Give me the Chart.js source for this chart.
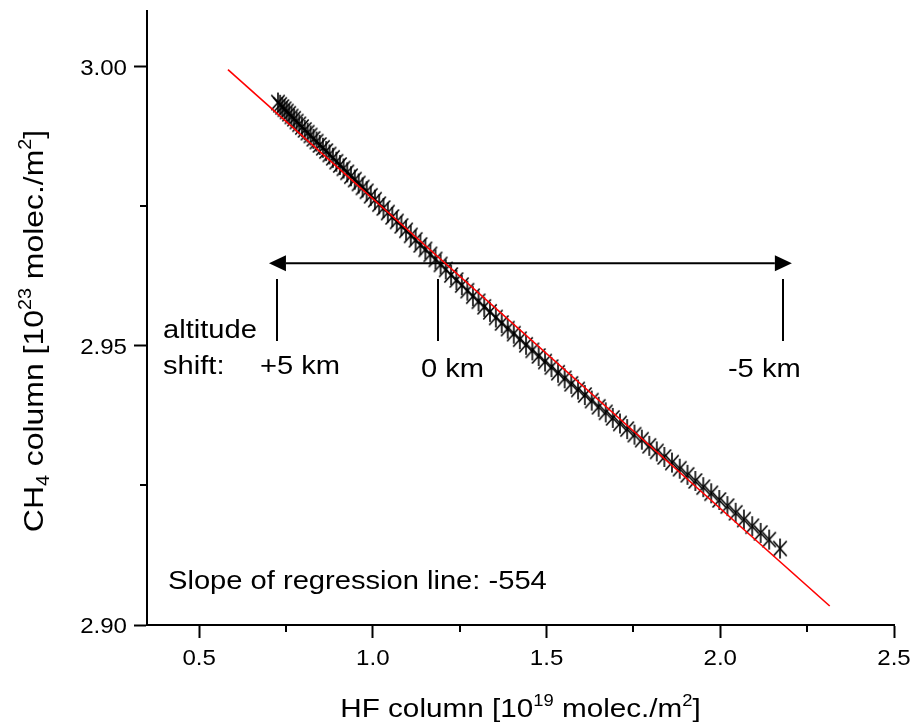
<!DOCTYPE html>
<html><head>
<meta charset="utf-8">
<title>CH4 vs HF column</title>
<script src="https://cdn.jsdelivr.net/npm/chart.js@4"></script>
<style>body{margin:0;background:#fff}canvas{display:block}</style>
</head><body>
<canvas id="chart" width="914" height="726"></canvas>
<script>
// values: HF column [1e19 molec./m2], CH4 column [1e23 molec./m2]
const hfColumn = [0.727,0.733,0.7392,0.7456,0.7522,0.759,0.766,0.7732,0.7806,0.7882,
  0.796,0.804,0.8122,0.8206,0.8292,0.838,0.847,0.8562,0.8656,0.8752,
  0.885,0.895,0.9052,0.9156,0.9262,0.937,0.948,0.9592,0.9706,0.9822,
  0.994,1.006,1.0182,1.0306,1.0432,1.056,1.069,1.0822,1.0956,1.1092,
  1.123,1.137,1.1512,1.1656,1.1802,1.195,1.21,1.2252,1.2406,1.2562,
  1.272,1.288,1.3042,1.3206,1.3372,1.354,1.371,1.3882,1.4056,1.4232,
  1.441,1.459,1.4772,1.4956,1.5142,1.533,1.552,1.5712,1.5906,1.6102,
  1.63,1.65,1.6702,1.6906,1.7112,1.732,1.753,1.7742,1.7956,1.8172,
  1.839,1.861,1.8832,1.9056,1.9282,1.951,1.974,1.9972,2.0206,2.0442,
  2.068,2.092,2.1162,2.1406,2.172];
const ch4Column = [2.9936,2.9932,2.9928,2.9924,2.9920,2.9916,2.9911,2.9907,2.9902,2.9897,
  2.9892,2.9887,2.9882,2.9877,2.9871,2.9866,2.9860,2.9855,2.9849,2.9843,
  2.9837,2.9830,2.9824,2.9818,2.9811,2.9804,2.9798,2.9791,2.9784,2.9777,
  2.9769,2.9762,2.9754,2.9747,2.9739,2.9731,2.9723,2.9715,2.9707,2.9698,
  2.9690,2.9681,2.9673,2.9664,2.9655,2.9646,2.9637,2.9627,2.9618,2.9609,
  2.9599,2.9589,2.9580,2.9570,2.9561,2.9551,2.9541,2.9531,2.9522,2.9512,
  2.9502,2.9492,2.9482,2.9472,2.9462,2.9452,2.9442,2.9432,2.9422,2.9412,
  2.9402,2.9391,2.9381,2.9371,2.9361,2.9351,2.9341,2.9332,2.9321,2.9311,
  2.9301,2.9291,2.9280,2.9269,2.9258,2.9247,2.9236,2.9224,2.9213,2.9201,
  2.9189,2.9177,2.9165,2.9153,2.9137];

// regression line end points
const fitHF = [0.583, 2.315];
const fitCH4 = [2.9995, 2.9034];

const xTicks = [0.5, 1.0, 1.5, 2.0, 2.5];
const xMinor = [0.75, 1.25, 1.75, 2.25];
const yTicks = [2.90, 2.95, 3.00];
const yMinor = [2.925, 2.975];

// altitude shift arrow and marks (data coordinates)
const arrowHF = [0.701, 2.206];
const arrowCH4 = 2.9648;
const shiftHF = [0.724, 1.187, 2.180];
const shiftCH4 = [2.9509, 2.9620];

const notes = [
  {text: 'altitude', x: 0.396, y: 2.9515},
  {text: 'shift:', x: 0.396, y: 2.9449},
  {text: '+5 km', x: 0.675, y: 2.9449},
  {text: '0 km', x: 1.1385, y: 2.9444},
  {text: '-5 km', x: 2.022, y: 2.9444},
  {text: 'Slope of regression line: -554', x: 0.4104, y: 2.9064},
];

const FONT = '"Liberation Sans", Arial, sans-serif';
const WIDE = 1.12; // the figure's lettering runs a bit wider than Arial

// parts: [[text, ''|'sup'|'sub'], ...]
function drawRich(ctx, parts, x, y, size, align, rotate) {
  ctx.save();
  ctx.translate(x, y);
  if (rotate) ctx.rotate(-Math.PI / 2);
  ctx.scale(WIDE, 1);
  ctx.fillStyle = '#000';
  ctx.textBaseline = 'alphabetic';
  ctx.textAlign = 'left';
  const sized = parts.map(([t, k]) => {
    const s = k ? size * 0.62 : size;
    ctx.font = s + 'px ' + FONT;
    return {t, k, s, w: ctx.measureText(t).width};
  });
  const total = sized.reduce((a, p) => a + p.w, 0);
  let cx = align === 'center' ? -total / 2 : align === 'right' ? -total : 0;
  for (const p of sized) {
    ctx.font = p.s + 'px ' + FONT;
    const dy = p.k === 'sup' ? -0.42 * size : p.k === 'sub' ? 0.22 * size : 0;
    ctx.fillText(p.t, cx, dy);
    cx += p.w;
  }
  ctx.restore();
}

function asterisk(r) {
  const c = document.createElement('canvas');
  c.width = c.height = 2 * r + 4;
  const g = c.getContext('2d');
  g.translate(r + 2, r + 2);
  g.strokeStyle = '#000';
  g.lineWidth = 1.6;
  for (const a of [90, 48, 132]) {
    const t = a * Math.PI / 180;
    g.beginPath();
    g.moveTo(-r * Math.cos(t), -r * Math.sin(t));
    g.lineTo(r * Math.cos(t), r * Math.sin(t));
    g.stroke();
  }
  return c;
}

const decorations = {
  id: 'decorations',
  beforeDatasetsDraw(chart) {
    const {ctx, scales: {x, y}} = chart;
    ctx.save();
    ctx.strokeStyle = '#000';
    ctx.fillStyle = '#000';
    ctx.lineWidth = 2;
    const ay = y.getPixelForValue(arrowCH4);
    const x0 = x.getPixelForValue(arrowHF[0]);
    const x1 = x.getPixelForValue(arrowHF[1]);
    const head = 17, half = 8;
    ctx.beginPath();
    ctx.moveTo(x0 + head, ay);
    ctx.lineTo(x1 - head, ay);
    ctx.stroke();
    ctx.beginPath();
    ctx.moveTo(x0, ay); ctx.lineTo(x0 + head, ay - half); ctx.lineTo(x0 + head, ay + half);
    ctx.closePath(); ctx.fill();
    ctx.beginPath();
    ctx.moveTo(x1, ay); ctx.lineTo(x1 - head, ay - half); ctx.lineTo(x1 - head, ay + half);
    ctx.closePath(); ctx.fill();
    for (const v of shiftHF) {
      const px = Math.round(x.getPixelForValue(v));
      ctx.beginPath();
      ctx.moveTo(px, y.getPixelForValue(shiftCH4[0]));
      ctx.lineTo(px, y.getPixelForValue(shiftCH4[1]));
      ctx.stroke();
    }
    ctx.restore();
    for (const n of notes) {
      drawRich(ctx, [[n.text, '']], x.getPixelForValue(n.x), y.getPixelForValue(n.y), 26, 'left');
    }
  },
  afterDraw(chart) {
    const {ctx, chartArea: area, scales: {x, y}} = chart;
    ctx.save();
    ctx.strokeStyle = '#000';
    ctx.lineWidth = 2;
    for (const v of xMinor) {
      const px = Math.round(x.getPixelForValue(v));
      ctx.beginPath(); ctx.moveTo(px, area.bottom); ctx.lineTo(px, area.bottom + 7); ctx.stroke();
    }
    for (const v of yMinor) {
      const py = Math.round(y.getPixelForValue(v));
      ctx.beginPath(); ctx.moveTo(area.left, py); ctx.lineTo(area.left - 7, py); ctx.stroke();
    }
    ctx.restore();
    for (const v of xTicks) {
      drawRich(ctx, [[v.toFixed(1), '']], x.getPixelForValue(v), area.bottom + 40, 21.5, 'center');
    }
    for (const v of yTicks) {
      drawRich(ctx, [[v.toFixed(2), '']], area.left - 20, y.getPixelForValue(v) + 8, 21.5, 'right');
    }
    drawRich(ctx, [['HF column [10', ''], ['19', 'sup'], [' molec./m', ''], ['2', 'sup'], [']', '']],
      (area.left + area.right) / 2, 717, 26.5, 'center');
    drawRich(ctx, [['CH', ''], ['4', 'sub'], [' column [10', ''], ['23', 'sup'], [' molec./m', ''], ['2', 'sup'], [']', '']],
      43, 331, 28.5, 'center', true);
  }
};

const axisStyle = {
  ticks: {display: false},
  grid: {drawOnChartArea: false, drawTicks: true, tickLength: 13, tickWidth: 2, tickColor: '#000'},
  border: {display: true, color: '#000', width: 2},
};

new Chart(document.getElementById('chart'), {
  type: 'scatter',
  data: {
    datasets: [
      {
        type: 'line',
        data: fitHF.map((v, i) => ({x: v, y: fitCH4[i]})),
        borderColor: '#ff0000',
        borderWidth: 1.6,
        pointRadius: 0,
        showLine: true,
        order: 0,
      },
      {
        data: hfColumn.map((v, i) => ({x: v, y: ch4Column[i]})),
        pointStyle: asterisk(10),
        pointRadius: 10,
        order: 1,
      },
    ],
  },
  options: {
    responsive: false,
    animation: false,
    layout: {padding: {top: 10, right: 20, left: 0, bottom: 0}},
    plugins: {legend: {display: false}, tooltip: {enabled: false}},
    scales: {
      x: {
        ...axisStyle, type: 'linear', min: 0.35, max: 2.5,
        afterBuildTicks: s => { s.ticks = xTicks.map(v => ({value: v})); },
        afterFit: s => { s.height = 101; },
      },
      y: {
        ...axisStyle, type: 'linear', min: 2.90, max: 3.01,
        afterBuildTicks: s => { s.ticks = yTicks.map(v => ({value: v})); },
        afterFit: s => { s.width = 147; },
      },
    },
  },
  plugins: [decorations],
});
</script>
</body></html>
